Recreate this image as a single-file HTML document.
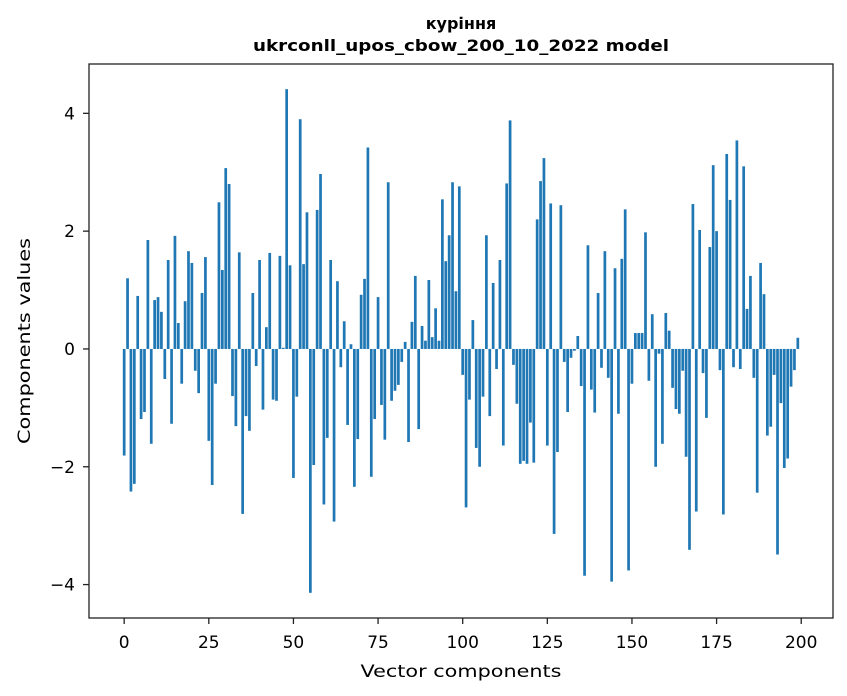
<!DOCTYPE html>
<html><head><meta charset="utf-8"><style>
body{margin:0;background:#fff;}
svg{display:block;font-family:"DejaVu Sans","Liberation Sans",sans-serif;}
</style></head><body>
<svg id="chart" width="847" height="696" viewBox="0 0 847 696" xmlns="http://www.w3.org/2000/svg">
<rect width="847" height="696" fill="#fff"/>
<text x="461" y="29" text-anchor="middle" font-size="16" font-weight="bold">куріння</text>
<text x="461" y="51" text-anchor="middle" font-size="16" font-weight="bold" textLength="416" lengthAdjust="spacingAndGlyphs">ukrconll_upos_cbow_200_10_2022 model</text>
<g id="bars"></g>
<g id="xticks"></g>
<g id="yticks"></g>
<rect x="89" y="64" width="744" height="554" fill="none" stroke="#222" stroke-width="1.3"/>
<text x="461" y="677" text-anchor="middle" font-size="17" textLength="201" lengthAdjust="spacingAndGlyphs">Vector components</text>
<text transform="translate(30,341) rotate(-90)" text-anchor="middle" font-size="17" textLength="206" lengthAdjust="spacingAndGlyphs">Components values</text>
</svg>
<script>
const values = [-1.81,1.20,-2.42,-2.29,0.90,-1.19,-1.07,1.85,-1.61,0.83,
0.88,0.63,-0.51,1.51,-1.27,1.92,0.44,-0.59,0.81,1.66,
1.46,-0.37,-0.75,0.95,1.56,-1.56,-2.31,-0.59,2.49,1.34,
3.07,2.80,-0.80,-1.31,1.64,-2.80,-1.14,-1.39,0.95,-0.29,
1.51,-1.03,0.37,1.63,-0.86,-0.88,1.58,0.02,4.41,1.42,
-2.19,-0.81,3.90,1.44,2.32,-4.14,-1.97,2.36,2.97,-2.64,
-1.51,1.51,-2.93,1.15,-0.31,0.47,-1.29,0.08,-2.34,-1.53,
0.92,1.19,3.42,-2.17,-1.19,0.88,-0.95,-1.54,2.83,-0.88,
-0.71,-0.61,-0.22,0.12,-1.58,0.46,1.24,-1.36,0.39,0.14,
1.17,0.20,0.69,0.14,2.54,1.49,1.93,2.83,0.98,2.76,
-0.44,-2.69,-0.86,0.49,-1.68,-2.00,-0.81,1.93,-1.14,1.12,
-0.34,1.51,-1.64,2.81,3.88,-0.27,-0.93,-1.95,-1.90,-1.95,
-1.25,-1.93,2.20,2.85,3.24,-1.64,2.47,-3.14,-1.75,2.44,
-0.22,-1.07,-0.15,-0.03,0.22,-0.63,-3.85,1.76,-0.69,-1.08,
0.95,-0.32,1.66,-0.49,-3.95,1.37,-1.10,1.53,2.37,-3.76,
-0.59,0.27,0.27,0.27,1.98,-0.54,0.59,-2.00,-0.08,-1.61,
0.61,0.31,-0.66,-1.02,-1.10,-0.37,-1.83,-3.41,2.46,-2.76,
2.02,-0.41,-1.17,1.73,3.12,2.00,-0.36,-2.81,3.31,2.53,
-0.31,3.54,-0.34,3.10,0.68,1.24,-0.49,-2.44,1.46,0.93,
-1.47,-1.32,-0.44,-3.49,-0.92,-2.02,-1.86,-0.64,-0.36,0.19];
const xTickValues = [0,25,50,75,100,125,150,175,200];
const yTickValues = [-4,-2,0,2,4];
const yTickLabels = ["\u22124","\u22122","0","2","4"];

const NS = "http://www.w3.org/2000/svg";
const L=89,R=833,T=64,B=618;
const n = values.length;
const xmin=-0.4-(n-0.2)*0.05, xmax=(n-1)+0.4+(n-0.2)*0.05;
const vmax=Math.max(...values,0), vmin=Math.min(...values,0);
const ymax=vmax+(vmax-vmin)*0.05, ymin=vmin-(vmax-vmin)*0.05;
function xs(v){return L+(v-xmin)/(xmax-xmin)*(R-L);}
function ys(v){return B-(v-ymin)/(ymax-ymin)*(B-T);}
const gb=document.getElementById('bars');
values.forEach((v,i)=>{
  const r=document.createElementNS(NS,'rect');
  const x0=xs(i-0.4), x1=xs(i+0.4);
  const y0=ys(Math.max(v,0)), y1=ys(Math.min(v,0));
  r.setAttribute('x',x0);r.setAttribute('width',x1-x0);
  r.setAttribute('y',y0);r.setAttribute('height',Math.max(y1-y0,0.3));
  r.setAttribute('fill','#1f77b4');
  
  
  gb.appendChild(r);
});
const gx=document.getElementById('xticks');
xTickValues.forEach(t=>{
  const x=xs(t);
  const l=document.createElementNS(NS,'line');
  l.setAttribute('x1',x);l.setAttribute('x2',x);l.setAttribute('y1',B);l.setAttribute('y2',B+6);
  l.setAttribute('stroke','#222');l.setAttribute('stroke-width','1.3');
  
  
  gx.appendChild(l);
  const tx=document.createElementNS(NS,'text');
  tx.setAttribute('x',x);tx.setAttribute('y',648);tx.setAttribute('text-anchor','middle');tx.setAttribute('font-size','17');
  tx.textContent=String(t);
  
  
  gx.appendChild(tx);
});
const gy=document.getElementById('yticks');
yTickValues.forEach((t,i)=>{
  const y=ys(t);
  const l=document.createElementNS(NS,'line');
  l.setAttribute('x1',L-6);l.setAttribute('x2',L);l.setAttribute('y1',y);l.setAttribute('y2',y);
  l.setAttribute('stroke','#222');l.setAttribute('stroke-width','1.3');
  
  
  gy.appendChild(l);
  const tx=document.createElementNS(NS,'text');
  tx.setAttribute('x',L-14);tx.setAttribute('y',y+6);tx.setAttribute('text-anchor','end');tx.setAttribute('font-size','17');
  tx.textContent=yTickLabels[i];
  
  
  gy.appendChild(tx);
});
</script>
</body></html>
